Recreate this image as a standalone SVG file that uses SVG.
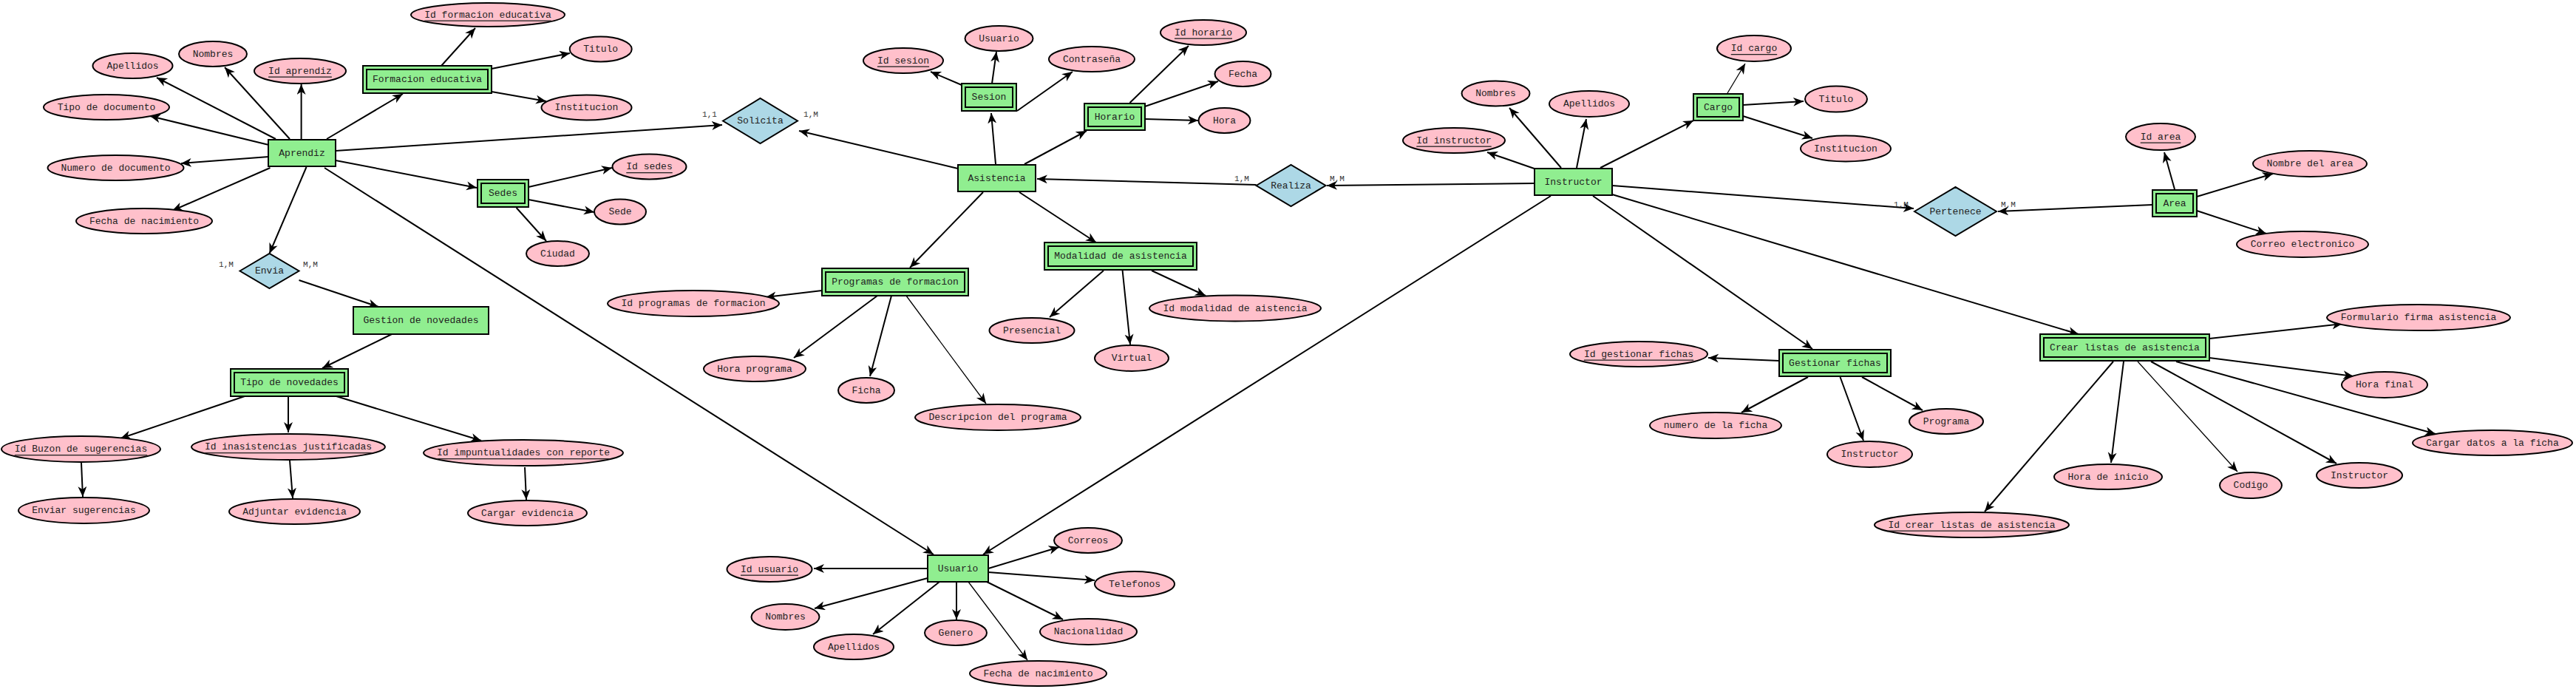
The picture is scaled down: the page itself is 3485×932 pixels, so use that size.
<svg xmlns="http://www.w3.org/2000/svg" width="3485" height="932" viewBox="0 0 3485 932">
<style>
.ent{fill:#90ee90;stroke:#000;stroke-width:2}
.inn{fill:none;stroke:#000;stroke-width:2}
.att{fill:#ffc0cb;stroke:#000;stroke-width:2}
.rel{fill:#add8e6;stroke:#000;stroke-width:2}
text{font-family:"Liberation Mono","Courier New",monospace;font-size:13px;fill:#222;text-anchor:middle;dominant-baseline:central}
.key{text-decoration:underline}
.card{font-size:11px;fill:#333}
.c line{stroke:#000;stroke-width:2;marker-end:url(#ah)}
.c line.t{stroke-width:1.3}
</style>
<defs>
<marker id="ah" markerUnits="userSpaceOnUse" markerWidth="16" markerHeight="14" refX="14" refY="6" orient="auto">
<path d="M0,0 L14,6 L0,12 L4,6 z" fill="#000"/>
</marker>
</defs>
<rect width="3485" height="932" fill="#fff"/>
<g id="connectors" class="c">
<line x1="373" y1="188" x2="212" y2="105"/>
<line x1="392" y1="188" x2="304" y2="91"/>
<line x1="407.6" y1="188" x2="407.6" y2="114"/>
<line x1="363.6" y1="196" x2="203" y2="157"/>
<line x1="363.6" y1="212" x2="245" y2="221"/>
<line x1="365.5" y1="227" x2="233" y2="285"/>
<line x1="442" y1="188" x2="545" y2="127"/>
<line x1="414.5" y1="226" x2="364.5" y2="343"/>
<line x1="404.5" y1="379" x2="512" y2="415"/>
<line x1="454" y1="204" x2="977" y2="169"/>
<line x1="454" y1="217" x2="645" y2="254"/>
<line x1="439" y1="227" x2="1263" y2="750"/>
<line x1="597" y1="89" x2="643" y2="38"/>
<line x1="665" y1="93" x2="771" y2="72"/>
<line x1="665" y1="124" x2="739" y2="137"/>
<line x1="715" y1="253" x2="828" y2="227"/>
<line x1="715" y1="270" x2="804" y2="287"/>
<line x1="698.6" y1="281" x2="739" y2="326"/>
<line x1="1296" y1="228" x2="1081" y2="177"/>
<line x1="1347" y1="222" x2="1341" y2="153"/>
<line x1="1386" y1="222" x2="1470" y2="177"/>
<line x1="1301" y1="115" x2="1259" y2="97"/>
<line x1="1342" y1="113" x2="1348" y2="70"/>
<line x1="1376" y1="150" x2="1451" y2="97"/>
<line x1="1528.5" y1="139" x2="1608" y2="62"/>
<line x1="1549" y1="144" x2="1648" y2="110"/>
<line x1="1549" y1="161" x2="1621" y2="163"/>
<line x1="1699.6" y1="250" x2="1403" y2="242"/>
<line x1="1330" y1="260" x2="1231" y2="362"/>
<line x1="1379" y1="260" x2="1483" y2="328"/>
<line x1="1493" y1="366" x2="1420" y2="429"/>
<line x1="1518.6" y1="366" x2="1529" y2="466"/>
<line x1="1558" y1="366" x2="1631" y2="400"/>
<line x1="1112" y1="393" x2="1036" y2="402"/>
<line x1="1187" y1="400" x2="1074" y2="484"/>
<line x1="1206" y1="400" x2="1177" y2="509"/>
<line class="t" x1="1226" y1="400" x2="1334" y2="546"/>
<line x1="2075.6" y1="228" x2="2012" y2="206"/>
<line x1="2112" y1="227" x2="2042" y2="146"/>
<line x1="2133" y1="227" x2="2146" y2="161"/>
<line x1="2165" y1="227" x2="2291" y2="163"/>
<line x1="2075.6" y1="248" x2="1795" y2="251"/>
<line x1="2098" y1="265" x2="1330" y2="750"/>
<line x1="2155" y1="265" x2="2452" y2="472"/>
<line x1="2181" y1="251" x2="2589" y2="282"/>
<line x1="2181" y1="263" x2="2812" y2="452"/>
<line class="t" x1="2337" y1="126" x2="2361" y2="86"/>
<line x1="2358" y1="142" x2="2440" y2="137"/>
<line x1="2358" y1="157" x2="2452" y2="187"/>
<line x1="2912" y1="277" x2="2703" y2="286"/>
<line x1="2942" y1="256" x2="2928" y2="206"/>
<line x1="2972" y1="266" x2="3075" y2="235"/>
<line x1="2972" y1="285" x2="3066" y2="316"/>
<line x1="2407" y1="488" x2="2311" y2="484"/>
<line x1="2446" y1="510" x2="2356" y2="558"/>
<line x1="2489.5" y1="510" x2="2521" y2="596"/>
<line x1="2519" y1="510" x2="2601" y2="555"/>
<line x1="2859" y1="489" x2="2685" y2="692"/>
<line x1="2873" y1="489" x2="2856" y2="626"/>
<line class="t" x1="2892" y1="489" x2="3027" y2="638"/>
<line x1="2910" y1="489" x2="3161" y2="627"/>
<line x1="2944" y1="489" x2="3295" y2="587"/>
<line x1="2989" y1="484" x2="3184" y2="509"/>
<line x1="2989" y1="458" x2="3169" y2="438"/>
<line x1="530" y1="452" x2="436" y2="498"/>
<line x1="331" y1="536" x2="163" y2="593"/>
<line x1="390" y1="536" x2="390" y2="585"/>
<line x1="455" y1="536" x2="651" y2="596"/>
<line x1="110" y1="626" x2="112" y2="672"/>
<line x1="392" y1="623" x2="396" y2="674"/>
<line x1="710" y1="632" x2="712" y2="676"/>
<line x1="1255" y1="769" x2="1101" y2="769"/>
<line x1="1255" y1="782" x2="1102" y2="823"/>
<line x1="1271" y1="787" x2="1181" y2="858"/>
<line x1="1294" y1="787" x2="1294" y2="838"/>
<line class="t" x1="1310" y1="787" x2="1390" y2="893"/>
<line x1="1337" y1="769" x2="1433" y2="740"/>
<line x1="1337" y1="774" x2="1481" y2="785"/>
<line x1="1335" y1="787" x2="1438" y2="838"/>
</g>
<g id="labels">
<text class="card" x="306" y="358">1,M</text>
<text class="card" x="420" y="358">M,M</text>
<text class="card" x="960" y="155">1,1</text>
<text class="card" x="1097" y="155">1,M</text>
<text class="card" x="1680" y="242">1,M</text>
<text class="card" x="1809" y="242">M,M</text>
<text class="card" x="2572" y="277">1,M</text>
<text class="card" x="2717" y="277">M,M</text>
</g>
<g id="aprendiz"><rect class="ent" x="363" y="189" width="91" height="36"/><text x="408.5" y="207">Aprendiz</text></g>
<g id="gestion_novedades"><rect class="ent" x="478" y="415" width="183" height="37"/><text x="569.5" y="433.5">Gestion de novedades</text></g>
<g id="asistencia"><rect class="ent" x="1296" y="223" width="105" height="36"/><text x="1348.5" y="241">Asistencia</text></g>
<g id="instructor"><rect class="ent" x="2076" y="228" width="105" height="36"/><text x="2128.5" y="246">Instructor</text></g>
<g id="usuario"><rect class="ent" x="1255" y="751" width="82" height="36"/><text x="1296" y="769">Usuario</text></g>
<g id="formacion_educativa"><rect class="ent" x="491" y="89" width="174" height="37"/><rect class="inn" x="496" y="94" width="164" height="27"/><text x="578" y="107.5">Formacion educativa</text></g>
<g id="sedes"><rect class="ent" x="646" y="243" width="69" height="37"/><rect class="inn" x="651" y="248" width="59" height="27"/><text x="680.5" y="261.5">Sedes</text></g>
<g id="sesion"><rect class="ent" x="1301" y="113" width="74" height="37"/><rect class="inn" x="1306" y="118" width="64" height="27"/><text x="1338" y="131.5">Sesion</text></g>
<g id="horario"><rect class="ent" x="1467" y="140" width="82" height="36"/><rect class="inn" x="1472" y="145" width="72" height="26"/><text x="1508" y="158">Horario</text></g>
<g id="programas"><rect class="ent" x="1112" y="363" width="198" height="37"/><rect class="inn" x="1117" y="368" width="188" height="27"/><text x="1211" y="381.5">Programas de formacion</text></g>
<g id="modalidad"><rect class="ent" x="1413" y="328" width="206" height="37"/><rect class="inn" x="1418" y="333" width="196" height="27"/><text x="1516" y="346.5">Modalidad de asistencia</text></g>
<g id="cargo"><rect class="ent" x="2291" y="127" width="67" height="36"/><rect class="inn" x="2296" y="132" width="57" height="26"/><text x="2324.5" y="145">Cargo</text></g>
<g id="area"><rect class="ent" x="2912" y="257" width="60" height="36"/><rect class="inn" x="2917" y="262" width="50" height="26"/><text x="2942" y="275">Area</text></g>
<g id="tipo_novedades"><rect class="ent" x="312" y="499" width="159" height="37"/><rect class="inn" x="317" y="504" width="149" height="27"/><text x="391.5" y="517.5">Tipo de novedades</text></g>
<g id="gestionar_fichas"><rect class="ent" x="2407" y="473" width="151" height="36"/><rect class="inn" x="2412" y="478" width="141" height="26"/><text x="2482.5" y="491">Gestionar fichas</text></g>
<g id="crear_listas"><rect class="ent" x="2760" y="452" width="229" height="36"/><rect class="inn" x="2765" y="457" width="219" height="26"/><text x="2874.5" y="470">Crear listas de asistencia</text></g>
<g id="solicita"><polygon class="rel" points="978,163.5 1028.5,133 1079,163.5 1028.5,194"/><text x="1028.5" y="163.5">Solicita</text></g>
<g id="envia"><polygon class="rel" points="324.5,366.5 364.5,343 404.5,366.5 364.5,390"/><text x="364.5" y="366.5">Envia</text></g>
<g id="realiza"><polygon class="rel" points="1699.5,251 1746.5,223 1793.5,251 1746.5,279"/><text x="1746.5" y="251">Realiza</text></g>
<g id="pertenece"><polygon class="rel" points="2590,286 2645.5,253 2701,286 2645.5,319"/><text x="2645.5" y="286">Pertenece</text></g>
<g id="a_ap_nombres"><ellipse class="att" cx="288" cy="73" rx="46" ry="17"/><text x="288" y="73">Nombres</text></g>
<g id="a_ap_apellidos"><ellipse class="att" cx="179.5" cy="89" rx="54" ry="17"/><text x="179.5" y="89">Apellidos</text></g>
<g id="a_ap_id"><ellipse class="att" cx="406" cy="96" rx="62" ry="17"/><text class="key" x="406" y="96">Id aprendiz</text></g>
<g id="a_ap_tipo"><ellipse class="att" cx="144" cy="145" rx="85" ry="17"/><text x="144" y="145">Tipo de documento</text></g>
<g id="a_ap_numero"><ellipse class="att" cx="156.5" cy="227" rx="92" ry="17"/><text x="156.5" y="227">Numero de documento</text></g>
<g id="a_ap_fecha"><ellipse class="att" cx="195" cy="299" rx="92" ry="17"/><text x="195" y="299">Fecha de nacimiento</text></g>
<g id="a_fe_id"><ellipse class="att" cx="660" cy="20" rx="104" ry="16"/><text class="key" x="660" y="20">Id formacion educativa</text></g>
<g id="a_fe_titulo"><ellipse class="att" cx="812.7" cy="66.5" rx="42" ry="17"/><text x="812.7" y="66.5">Titulo</text></g>
<g id="a_fe_inst"><ellipse class="att" cx="793.5" cy="145.5" rx="61" ry="17"/><text x="793.5" y="145.5">Institucion</text></g>
<g id="a_se_id"><ellipse class="att" cx="878.5" cy="225.5" rx="50" ry="17"/><text class="key" x="878.5" y="225.5">Id sedes</text></g>
<g id="a_se_sede"><ellipse class="att" cx="839" cy="286.5" rx="35" ry="17"/><text x="839" y="286.5">Sede</text></g>
<g id="a_se_ciudad"><ellipse class="att" cx="754.5" cy="343" rx="42.5" ry="17"/><text x="754.5" y="343">Ciudad</text></g>
<g id="a_ses_id"><ellipse class="att" cx="1222" cy="82" rx="54" ry="17"/><text class="key" x="1222" y="82">Id sesion</text></g>
<g id="a_ses_usuario"><ellipse class="att" cx="1351.5" cy="52" rx="46" ry="17"/><text x="1351.5" y="52">Usuario</text></g>
<g id="a_ses_pass"><ellipse class="att" cx="1477" cy="80" rx="58" ry="17"/><text x="1477" y="80">Contraseña</text></g>
<g id="a_ho_id"><ellipse class="att" cx="1628" cy="44" rx="58" ry="17"/><text class="key" x="1628" y="44">Id horario</text></g>
<g id="a_ho_fecha"><ellipse class="att" cx="1681.5" cy="100" rx="38" ry="17"/><text x="1681.5" y="100">Fecha</text></g>
<g id="a_ho_hora"><ellipse class="att" cx="1656.5" cy="163" rx="35" ry="17"/><text x="1656.5" y="163">Hora</text></g>
<g id="a_pr_id"><ellipse class="att" cx="938" cy="410.5" rx="116" ry="17.5"/><text x="938" y="410.5">Id programas de formacion</text></g>
<g id="a_pr_hora"><ellipse class="att" cx="1021" cy="499" rx="69" ry="17"/><text x="1021" y="499">Hora programa</text></g>
<g id="a_pr_ficha"><ellipse class="att" cx="1172" cy="528" rx="38" ry="17"/><text x="1172" y="528">Ficha</text></g>
<g id="a_pr_desc"><ellipse class="att" cx="1350" cy="564.5" rx="112" ry="17.5"/><text x="1350" y="564.5">Descripcion del programa</text></g>
<g id="a_mo_pres"><ellipse class="att" cx="1396" cy="447" rx="57.5" ry="17"/><text x="1396" y="447">Presencial</text></g>
<g id="a_mo_virt"><ellipse class="att" cx="1531" cy="484.5" rx="50" ry="17.5"/><text x="1531" y="484.5">Virtual</text></g>
<g id="a_mo_id"><ellipse class="att" cx="1671" cy="417" rx="116" ry="17.5"/><text x="1671" y="417">Id modalidad de aistencia</text></g>
<g id="a_in_id"><ellipse class="att" cx="1967" cy="190" rx="69" ry="17"/><text class="key" x="1967" y="190">Id instructor</text></g>
<g id="a_in_nombres"><ellipse class="att" cx="2023.5" cy="126.5" rx="46" ry="17"/><text x="2023.5" y="126.5">Nombres</text></g>
<g id="a_in_apellidos"><ellipse class="att" cx="2150" cy="140.5" rx="54" ry="17.5"/><text x="2150" y="140.5">Apellidos</text></g>
<g id="a_ca_id"><ellipse class="att" cx="2373" cy="65.5" rx="50" ry="17.5"/><text class="key" x="2373" y="65.5">Id cargo</text></g>
<g id="a_ca_titulo"><ellipse class="att" cx="2484" cy="134" rx="42" ry="17.5"/><text x="2484" y="134">Titulo</text></g>
<g id="a_ca_inst"><ellipse class="att" cx="2497" cy="201" rx="61" ry="17.5"/><text x="2497" y="201">Institucion</text></g>
<g id="a_ar_id"><ellipse class="att" cx="2923" cy="185" rx="47" ry="18"/><text class="key" x="2923" y="185">Id area</text></g>
<g id="a_ar_nombre"><ellipse class="att" cx="3125" cy="221.5" rx="77" ry="17.5"/><text x="3125" y="221.5">Nombre del area</text></g>
<g id="a_ar_correo"><ellipse class="att" cx="3115" cy="330.5" rx="89" ry="17.5"/><text x="3115" y="330.5">Correo electronico</text></g>
<g id="a_gf_id"><ellipse class="att" cx="2217" cy="479" rx="93" ry="17"/><text class="key" x="2217" y="479">Id gestionar fichas</text></g>
<g id="a_gf_numero"><ellipse class="att" cx="2321" cy="575.5" rx="89" ry="17.5"/><text x="2321" y="575.5">numero de la ficha</text></g>
<g id="a_gf_instr"><ellipse class="att" cx="2529.5" cy="614.5" rx="57.5" ry="17.5"/><text x="2529.5" y="614.5">Instructor</text></g>
<g id="a_gf_prog"><ellipse class="att" cx="2633" cy="570" rx="50" ry="17"/><text x="2633" y="570">Programa</text></g>
<g id="a_cl_form"><ellipse class="att" cx="3272" cy="429.5" rx="124" ry="17.5"/><text x="3272" y="429.5">Formulario firma asistencia</text></g>
<g id="a_cl_final"><ellipse class="att" cx="3226" cy="520.5" rx="58" ry="17.5"/><text x="3226" y="520.5">Hora final</text></g>
<g id="a_cl_cargar"><ellipse class="att" cx="3372" cy="599" rx="108" ry="17"/><text x="3372" y="599">Cargar datos a la ficha</text></g>
<g id="a_cl_instr"><ellipse class="att" cx="3192" cy="643" rx="58" ry="17"/><text x="3192" y="643">Instructor</text></g>
<g id="a_cl_codigo"><ellipse class="att" cx="3045" cy="656.5" rx="42" ry="17.5"/><text x="3045" y="656.5">Codigo</text></g>
<g id="a_cl_inicio"><ellipse class="att" cx="2852" cy="645" rx="73" ry="17"/><text x="2852" y="645">Hora de inicio</text></g>
<g id="a_cl_id"><ellipse class="att" cx="2667.5" cy="710" rx="131.5" ry="17"/><text class="key" x="2667.5" y="710">Id crear listas de asistencia</text></g>
<g id="a_tn_buzon"><ellipse class="att" cx="109.5" cy="607.5" rx="107.5" ry="17.5"/><text class="key" x="109.5" y="607.5">Id Buzon de sugerencias</text></g>
<g id="a_tn_inas"><ellipse class="att" cx="390" cy="604.5" rx="131" ry="17.5"/><text class="key" x="390" y="604.5">Id inasistencias justificadas</text></g>
<g id="a_tn_imp"><ellipse class="att" cx="708" cy="612.5" rx="135" ry="17.5"/><text class="key" x="708" y="612.5">Id impuntualidades con reporte</text></g>
<g id="a_tn_enviar"><ellipse class="att" cx="113.5" cy="690.5" rx="88.5" ry="17.5"/><text x="113.5" y="690.5">Enviar sugerencias</text></g>
<g id="a_tn_adjuntar"><ellipse class="att" cx="398.5" cy="692" rx="88.5" ry="17"/><text x="398.5" y="692">Adjuntar evidencia</text></g>
<g id="a_tn_cargar"><ellipse class="att" cx="713.5" cy="694" rx="80.5" ry="17"/><text x="713.5" y="694">Cargar evidencia</text></g>
<g id="a_us_id"><ellipse class="att" cx="1041" cy="770" rx="57.5" ry="17"/><text class="key" x="1041" y="770">Id usuario</text></g>
<g id="a_us_nombres"><ellipse class="att" cx="1062.5" cy="834.5" rx="46" ry="17.5"/><text x="1062.5" y="834.5">Nombres</text></g>
<g id="a_us_apellidos"><ellipse class="att" cx="1155" cy="875" rx="54" ry="17"/><text x="1155" y="875">Apellidos</text></g>
<g id="a_us_correos"><ellipse class="att" cx="1472" cy="731" rx="46" ry="17"/><text x="1472" y="731">Correos</text></g>
<g id="a_us_tel"><ellipse class="att" cx="1535" cy="790" rx="54" ry="17"/><text x="1535" y="790">Telefonos</text></g>
<g id="a_us_nac"><ellipse class="att" cx="1472.5" cy="854.5" rx="65.5" ry="17.5"/><text x="1472.5" y="854.5">Nacionalidad</text></g>
<g id="a_us_genero"><ellipse class="att" cx="1293" cy="856" rx="42" ry="17"/><text x="1293" y="856">Genero</text></g>
<g id="a_us_fecha"><ellipse class="att" cx="1404.5" cy="911" rx="92.5" ry="17"/><text x="1404.5" y="911">Fecha de nacimiento</text></g>
</svg>
